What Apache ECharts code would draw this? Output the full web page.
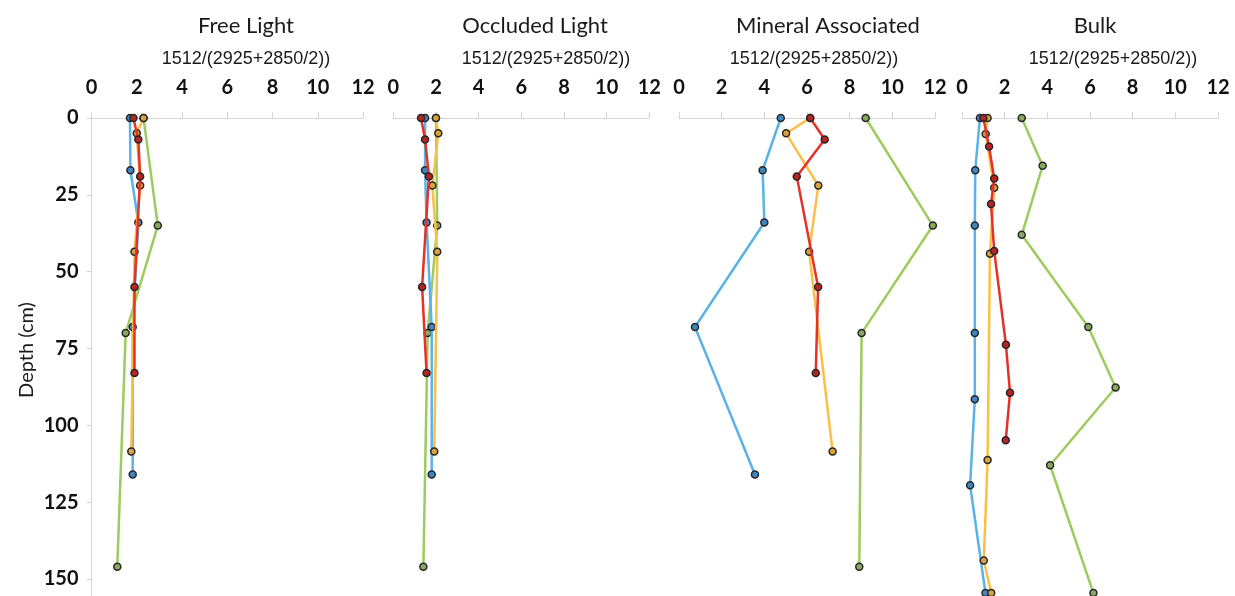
<!DOCTYPE html>
<html>
<head>
<meta charset="utf-8">
<script src="https://cdn.jsdelivr.net/npm/echarts@6/dist/echarts.min.js"></script>
<style>
html,body{margin:0;padding:0;background:#fff;}
#chart{width:1235px;height:596px;}
</style>
</head>
<body>
<div id="chart"></div>
<script>
// ---- Data (value, depth in cm) ----
const panelTitles = ["Free Light", "Occluded Light", "Mineral Associated", "Bulk"];
const xAxisTitle = "1512/(2925+2850/2))";
const yAxisTitle = "Depth (cm)";
const xTicks = [0, 2, 4, 6, 8, 10, 12];
const yTicks = [0, 25, 50, 75, 100, 125, 150];

const freeBlue   = [[1.70,0],[1.72,17],[2.07,34],[1.82,68],[1.82,116]];
const freeRed    = [[1.85,0],[2.07,7],[2.15,19],[1.90,55],[1.90,83]];
const freeOrange = [[2.30,0],[2.00,5],[2.15,22],[1.90,43.5],[1.76,108.5]];
const freeGreen  = [[2.30,0],[2.93,35],[1.51,70],[1.14,146]];

const occBlue   = [[1.49,0],[1.49,17],[1.56,34],[1.80,68],[1.80,116]];
const occRed    = [[1.30,0],[1.49,7],[1.67,19],[1.35,55],[1.56,83]];
const occOrange = [[2.00,0],[2.11,5],[1.83,22],[2.06,43.5],[1.92,108.5]];
const occGreen  = [[2.00,0],[2.06,35],[1.61,70],[1.41,146]];

const minBlue   = [[4.77,0],[3.92,17],[4.00,34],[0.75,68],[3.56,116]];
const minRed    = [[6.15,0],[6.83,7],[5.52,19],[6.52,55],[6.41,83]];
const minOrange = [[6.15,0],[5.02,5],[6.53,22],[6.10,43.5],[7.20,108.5]];
const minGreen  = [[8.75,0],[11.9,35],[8.56,70],[8.45,146]];

const bulkBlue   = [[0.84,0],[0.62,17],[0.60,35],[0.60,70],[0.60,91.5],[0.38,119.5],[1.10,154.6]];
const bulkRed    = [[1.00,0],[1.27,9.3],[1.51,19.7],[1.36,28],[1.51,43.3],[2.06,73.8],[2.25,89.4],[2.05,104.9]];
const bulkOrange = [[1.20,0],[1.11,5.2],[1.51,22.7],[1.31,44.2],[1.20,111.3],[1.02,144],[1.37,154.6]];
const bulkGreen  = [[2.80,0],[3.78,15.5],[2.80,38],[5.92,68],[7.20,87.7],[4.13,113],[6.16,154.6]];

const panelSeries = [
  [freeGreen, freeBlue, freeOrange, freeRed],
  [occGreen, occBlue, occOrange, occRed],
  [minGreen, minBlue, minOrange, minRed],
  [bulkGreen, bulkBlue, bulkOrange, bulkRed]
];
const seriesColors = ['#9CCB5E', '#5AB2E6', '#FBBF45', '#E53228'];
const markerColors = ['#87A95E', '#3F86BE', '#D9A23C', '#B82424'];

// ---- Layout ----
const gridLefts  = [91.5, 393.3, 679, 962];
const gridWidths = [271.5, 256, 256, 256];
const gridTop = 118;
const gridHeight = 175 * 3.073;
const titleCenters = [241, 530, 823, 1090];
const subCenters = [241, 541, 809, 1108];

const chart = echarts.init(document.getElementById('chart'));

const grids = [], xAxes = [], yAxes = [], series = [], titles = [];
for (let p = 0; p < 4; p++) {
  grids.push({left: gridLefts[p], top: gridTop, width: gridWidths[p], height: gridHeight,
    containLabel: false, outerBoundsMode: 'none'});
  xAxes.push({
    gridIndex: p, type: 'value', position: 'top', min: 0, max: 12, interval: 2,
    axisLine: {show: true, lineStyle: {color: '#d4d4d4', width: 1}},
    axisTick: {show: true, length: 6, lineStyle: {color: '#d4d4d4'}},
    splitLine: {show: false},
    axisLabel: {show: true, margin: 20, fontFamily: 'Lato', fontWeight: 'bold', fontSize: 20, color: '#111',
      formatter: v => xTicks.includes(v) ? String(v) : ''}
  });
  yAxes.push({
    gridIndex: p, type: 'value', inverse: true, min: 0, max: 175, interval: 25,
    axisLine: {show: p === 0, onZero: false, lineStyle: {color: '#d4d4d4', width: 1}},
    axisTick: {show: p === 0, length: 5, lineStyle: {color: '#d4d4d4'}},
    splitLine: {show: false},
    axisLabel: {show: p === 0, margin: 13, fontFamily: 'Lato', fontWeight: 'bold', fontSize: 20, color: '#111',
      formatter: v => yTicks.includes(v) ? String(v) : ''}
  });
  panelSeries[p].forEach((data, i) => {
    series.push({
      type: 'line', xAxisIndex: p, yAxisIndex: p, data: data,
      symbol: 'circle', symbolSize: 7,
      lineStyle: {color: seriesColors[i], width: 2.5},
      itemStyle: {color: markerColors[i], borderColor: '#262626', borderWidth: 1.5},
      z: 2 + i, animation: false, clip: false
    });
  });
  titles.push({
    text: panelTitles[p], left: titleCenters[p], top: 10, textAlign: 'center',
    textStyle: {fontFamily: 'Lato', fontWeight: 'normal', fontSize: 22, color: '#1a1a1a'}
  });
  titles.push({
    text: xAxisTitle, left: subCenters[p], top: 45, textAlign: 'center',
    textStyle: {fontFamily: 'Liberation Sans', fontWeight: 'normal', fontSize: 18, color: '#1a1a1a'}
  });
}

chart.setOption({
  animation: false,
  title: titles,
  grid: grids,
  xAxis: xAxes,
  yAxis: yAxes,
  series: series,
  graphic: [{
    type: 'text', x: 27, y: 350, rotation: Math.PI / 2,
    style: {text: yAxisTitle, fontFamily: 'Lato', fontSize: 20, fill: '#1a1a1a',
      textAlign: 'center', textVerticalAlign: 'middle'}
  }]
});
</script>
</body>
</html>
